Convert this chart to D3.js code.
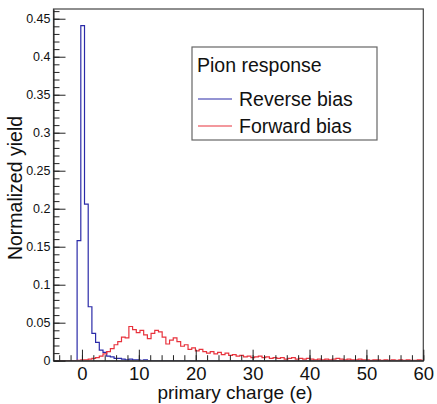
<!DOCTYPE html>
<html><head><meta charset="utf-8">
<script src="https://cdn.jsdelivr.net/npm/d3@7"></script>
<style>
html,body{margin:0;padding:0;background:#fff;}
svg text{font-family:"Liberation Sans",Arial,Helvetica,sans-serif;fill:#111;}
</style></head>
<body>
<svg id="c" width="437" height="404"></svg>
<script>
// ---- data ----
const binStart = -4.75;
const binWidth = 0.65;
const reverseBias = [0,0,0,0,0,0,0.158,0.441,0.206,0.071,0.036,0.024,0.014,0.011,0.006,0.005,0.003,0.003,0.002,0.001,
  0.002,0.001,0.001,0.0005,0.001,0,0,0,0,0,0,0,0,0,0,0,0,0,0,0,0,0,0,0,0,0,0,0,0,0,
  0,0,0,0,0,0,0,0,0,0,0,0,0,0,0,0,0,0,0,0,0,0,0,0,0,0,0,0,0,0,0,0,0,0,0,0,0,0,0,0,
  0,0,0,0,0,0,0,0,0,0];
const forwardBias = [0,0,0,0,0,0,0.0005,0.001,0.001,0.002,0.003,0.004,0.006,0.009,0.012,0.016,0.021,0.025,0.031,0.030,
  0.045,0.041,0.037,0.040,0.034,0.029,0.036,0.040,0.038,0.031,0.022,0.027,0.030,0.025,0.019,0.021,0.015,0.017,0.013,0.015,
  0.012,0.010,0.012,0.009,0.011,0.008,0.010,0.007,0.008,0.006,0.007,0.005,0.006,0.004,0.005,0.006,0.004,0.005,0.003,0.004,
  0.003,0.004,0.002,0.003,0.004,0.002,0.003,0.002,0.003,0.002,0.001,0.002,0.001,0.002,0.001,0.002,0.003,0.002,0.001,0.002,
  0.001,0.001,0.002,0.001,0.001,0.0005,0.001,0.001,0.0005,0.001,0.0005,0.001,0.0005,0.001,0.0005,0.001,0.0005,0.0005,0.001,0.0005];
const xTicks = [0,10,20,30,40,50,60];
const yTicks = [0,0.05,0.1,0.15,0.2,0.25,0.3,0.35,0.4,0.45];
const yTickLabels = ["0","0.05","0.1","0.15","0.2","0.25","0.3","0.35","0.4","0.45"];
const legendTitle = "Pion response";
const seriesNames = ["Reverse bias","Forward bias"];
const seriesColors = ["#2a2aa8","#e8323c"];
const xTitle = "primary charge (e)";
const yTitle = "Normalized yield";

// ---- layout ----
const L = 53.5, R = 423.3, T = 9, B = 360.7;
const x = d3.scaleLinear().domain([-5, 60]).range([L, R]);
const y = d3.scaleLinear().domain([0, 0.4628]).range([B, T]);
const svg = d3.select("#c");

svg.append("defs").append("clipPath").attr("id","clip")
  .append("rect").attr("x",L).attr("y",T).attr("width",R-L).attr("height",B-T);

// histograms
function histPts(vals){
  const pts = vals.map((v,i)=>[binStart + i*binWidth, v]);
  pts.push([binStart + vals.length*binWidth, vals[vals.length-1]]);
  pts.unshift([-5, 0]);
  return pts;
}
const line = d3.line().x(d=>x(d[0])).y(d=>y(d[1])).curve(d3.curveStepAfter);
const g = svg.append("g").attr("clip-path","url(#clip)");
[reverseBias, forwardBias].forEach((vals,k)=>{
  g.append("path").attr("d", line(histPts(vals)))
    .attr("fill","none").attr("stroke",seriesColors[k]).attr("stroke-width",1.2);
});

// frame
svg.append("rect").attr("x",L).attr("y",T).attr("width",R-L).attr("height",B-T)
  .attr("fill","none").attr("stroke","#444").attr("stroke-width",1.2);

// y axis
const yMinor = d3.range(0, 0.4601, 0.01);
svg.append("g").attr("transform",`translate(${L},0)`)
  .call(d3.axisLeft(y).tickValues(yMinor).tickSizeInner(-6).tickSizeOuter(0).tickFormat(""))
  .call(a=>a.select(".domain").remove())
  .selectAll("line").attr("stroke","#222");
const yAx = svg.append("g").attr("transform",`translate(${L},0)`)
  .call(d3.axisLeft(y).tickValues(yTicks).tickSizeInner(-12).tickSizeOuter(0).tickPadding(3)
    .tickFormat((d,i)=>yTickLabels[i]));
yAx.select(".domain").attr("stroke","#222");
yAx.selectAll("line").attr("stroke","#222");
yAx.selectAll("text").style("font-size","12.5px").attr("fill","#222");

// x axis
const xMinor = d3.range(-4, 60.01, 2);
svg.append("g").attr("transform",`translate(0,${B})`)
  .call(d3.axisBottom(x).tickValues(xMinor).tickSizeInner(-5.5).tickSizeOuter(0).tickFormat(""))
  .call(a=>a.select(".domain").remove())
  .selectAll("line").attr("stroke","#222");
const xAx = svg.append("g").attr("transform",`translate(0,${B})`)
  .call(d3.axisBottom(x).tickValues(xTicks).tickSizeInner(-11).tickSizeOuter(0).tickPadding(6)
    .tickFormat(d3.format("d")));
xAx.select(".domain").attr("stroke","#222");
xAx.selectAll("line").attr("stroke","#222");
xAx.selectAll("text").style("font-size","18.5px").attr("fill","#222");

// titles
svg.append("text").attr("x",235).attr("y",399).attr("text-anchor","middle")
  .style("font-size","19px").text(xTitle);
svg.append("text").attr("transform","translate(22,188) rotate(-90)").attr("text-anchor","middle")
  .style("font-size","19.5px").text(yTitle);

// legend
const lg = svg.append("g");
lg.append("rect").attr("x",192).attr("y",47).attr("width",185).attr("height",93)
  .attr("fill","#fff").attr("stroke","#666").attr("stroke-width",1.2);
lg.append("text").attr("x",197).attr("y",72).style("font-size","19.5px").text(legendTitle);
const rowsY = [99, 126];
seriesNames.forEach((n,k)=>{
  lg.append("line").attr("x1",198).attr("x2",232).attr("y1",rowsY[k]).attr("y2",rowsY[k])
    .attr("stroke",seriesColors[k]).attr("stroke-width",1.2);
  lg.append("text").attr("x",239).attr("y",rowsY[k]+7).style("font-size","19.5px").text(n);
});
</script>
</body></html>
